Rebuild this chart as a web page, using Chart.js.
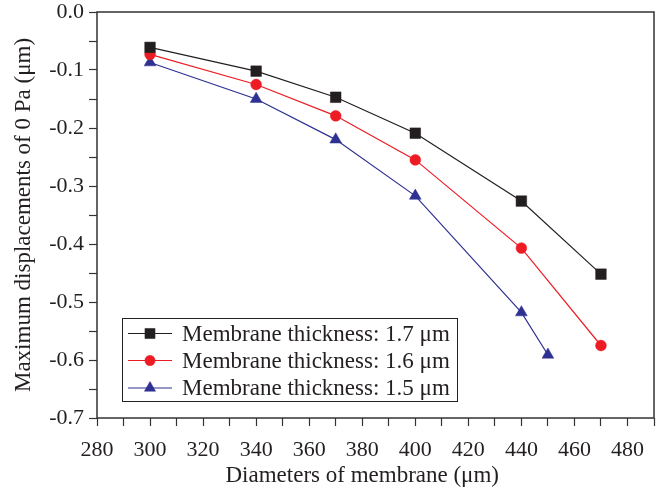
<!DOCTYPE html>
<html>
<head>
<meta charset="utf-8">
<script src="https://cdn.jsdelivr.net/npm/chart.js@4.4.1/dist/chart.umd.min.js"></script>
<style>
  body { margin: 0; background: #fff; }
  canvas { display: block; }
</style>
</head>
<body>
<canvas id="myChart" width="658" height="488"></canvas>
<script>
// du lieu doc tu hinh goc
var xTitle = 'Diameters of membrane (\u03bcm)';
var yTitle = 'Maximum displacements of 0 Pa (\u03bcm)';
var seriesLabels = ['Membrane thickness: 1.7 \u03bcm', 'Membrane thickness: 1.6 \u03bcm', 'Membrane thickness: 1.5 \u03bcm'];

var diam17 = [300, 340, 370, 400, 440, 470];
var disp17 = [-0.061, -0.102, -0.147, -0.209, -0.326, -0.452];

var diam16 = [300, 340, 370, 400, 440, 470];
var disp16 = [-0.073, -0.125, -0.179, -0.255, -0.407, -0.575];

var diam15 = [300, 340, 370, 400, 440, 450];
var disp15 = [-0.087, -0.150, -0.220, -0.317, -0.518, -0.591];

var xTickLabels = [280, 300, 320, 340, 360, 380, 400, 420, 440, 460, 480];
var yTickLabels = ['0.0', '-0.1', '-0.2', '-0.3', '-0.4', '-0.5', '-0.6', '-0.7'];

var colors = ['#231f20', '#ed1c24', '#2e3192'];
var styles = ['rect', 'circle', 'triangle'];
var radii = [7.5, 5.4, 6.8];
var FONT = '"Liberation Serif", "Times New Roman", serif';
var AXIS = '#333';

function toPoints(xs, ys) {
    return xs.map(function(x, i) { return { x: x, y: ys[i] }; });
}

function makeSet(i, xs, ys) {
    return {
        label: seriesLabels[i],
        data: toPoints(xs, ys),
        borderColor: colors[i],
        backgroundColor: colors[i],
        borderWidth: 1.2,
        pointStyle: styles[i],
        pointRadius: radii[i],
        pointHoverRadius: radii[i],
        pointBorderWidth: 0.5,
        tension: 0
    };
}

// ve khung, legend va tieu de truc
var decorPlugin = {
    id: 'decor',
    afterDraw: function(chart) {
        var ctx = chart.ctx;
        var a = chart.chartArea;
        var xs = chart.scales.x;
        ctx.save();

        // khung quanh vung ve
        ctx.strokeStyle = AXIS;
        ctx.lineWidth = 1.5;
        ctx.strokeRect(a.left, a.top, a.right - a.left, a.bottom - a.top);

        // legend
        var boxL = 122.5, boxT = 318.5, boxW = 335, boxH = 83;
        ctx.fillStyle = '#fff';
        ctx.fillRect(boxL, boxT, boxW, boxH);
        ctx.strokeStyle = '#231f20';
        ctx.lineWidth = 1;
        ctx.strokeRect(boxL, boxT, boxW, boxH);
        var rowY = [333.5, 360.5, 388];
        ctx.font = '23px ' + FONT;
        ctx.textBaseline = 'middle';
        ctx.textAlign = 'left';
        chart.data.datasets.forEach(function(ds, i) {
            var y = rowY[i];
            ctx.strokeStyle = colors[i];
            ctx.lineWidth = 1.2;
            ctx.beginPath();
            ctx.moveTo(128, y);
            ctx.lineTo(172, y);
            ctx.stroke();
            ctx.fillStyle = colors[i];
            ctx.strokeStyle = colors[i];
            ctx.lineWidth = 0.5;
            Chart.helpers.drawPoint(ctx, { pointStyle: styles[i], radius: radii[i] * 0.95, borderWidth: 0.5 }, 150, y);
            ctx.fillStyle = '#231f20';
            ctx.fillText(ds.label, 182, y + 1);
        });

        // tieu de truc x (can giua khoang 280-480)
        ctx.fillStyle = '#231f20';
        ctx.font = '23px ' + FONT;
        ctx.textAlign = 'center';
        ctx.textBaseline = 'middle';
        var cx = (xs.getPixelForValue(280) + xs.getPixelForValue(480)) / 2;
        ctx.fillText(xTitle, cx, 476);

        // tieu de truc y
        ctx.translate(24, (a.top + a.bottom) / 2);
        ctx.rotate(-Math.PI / 2);
        ctx.fillText(yTitle, 0, 0);
        ctx.restore();
    }
};

var ctx = document.getElementById('myChart').getContext('2d');
var myChart = new Chart(ctx, {
    type: 'line',
    data: {
        datasets: [
            makeSet(0, diam17, disp17),
            makeSet(1, diam16, disp16),
            makeSet(2, diam15, disp15)
        ]
    },
    options: {
        responsive: false,
        animation: false,
        // tat autoPadding de diem du lieu khong day khung vao trong
        layout: { autoPadding: false, padding: { top: 12, right: 4, left: 0, bottom: 0 } },
        scales: {
            x: {
                type: 'linear',
                min: 280,
                max: 490,
                afterFit: function(scale) {
                    scale.height = 70;
                    scale.paddingLeft = 0;
                    scale.paddingRight = 0;
                },
                afterBuildTicks: function(scale) {
                    var t = [];
                    for (var v = 280; v <= 490; v += 10) t.push({ value: v });
                    scale.ticks = t;
                },
                ticks: {
                    autoSkip: false,
                    maxRotation: 0,
                    padding: 11,
                    color: '#231f20',
                    font: { family: FONT, size: 22 },
                    callback: function(value) {
                        return xTickLabels.indexOf(value) >= 0 ? String(value) : '';
                    }
                },
                grid: {
                    drawOnChartArea: false,
                    drawTicks: true,
                    tickLength: 8,
                    tickWidth: 1.2,
                    tickColor: AXIS
                },
                border: { display: false }
            },
            y: {
                min: -0.7,
                max: 0,
                afterFit: function(scale) {
                    scale.width = 97;
                    scale.paddingTop = 0;
                    scale.paddingBottom = 0;
                },
                afterBuildTicks: function(scale) {
                    var t = [];
                    for (var k = 0; k <= 14; k++) t.push({ value: -k * 0.05 });
                    scale.ticks = t;
                },
                ticks: {
                    autoSkip: false,
                    padding: 5,
                    color: '#231f20',
                    font: { family: FONT, size: 22 },
                    callback: function(value) {
                        var k = Math.round(-value * 20);
                        return k % 2 === 0 ? yTickLabels[k / 2] : '';
                    }
                },
                grid: {
                    drawOnChartArea: false,
                    drawTicks: true,
                    tickLength: 8,
                    tickWidth: 1.2,
                    tickColor: AXIS
                },
                border: { display: false }
            }
        },
        plugins: {
            legend: { display: false },
            tooltip: { enabled: false }
        }
    },
    plugins: [decorPlugin]
});
</script>
</body>
</html>
